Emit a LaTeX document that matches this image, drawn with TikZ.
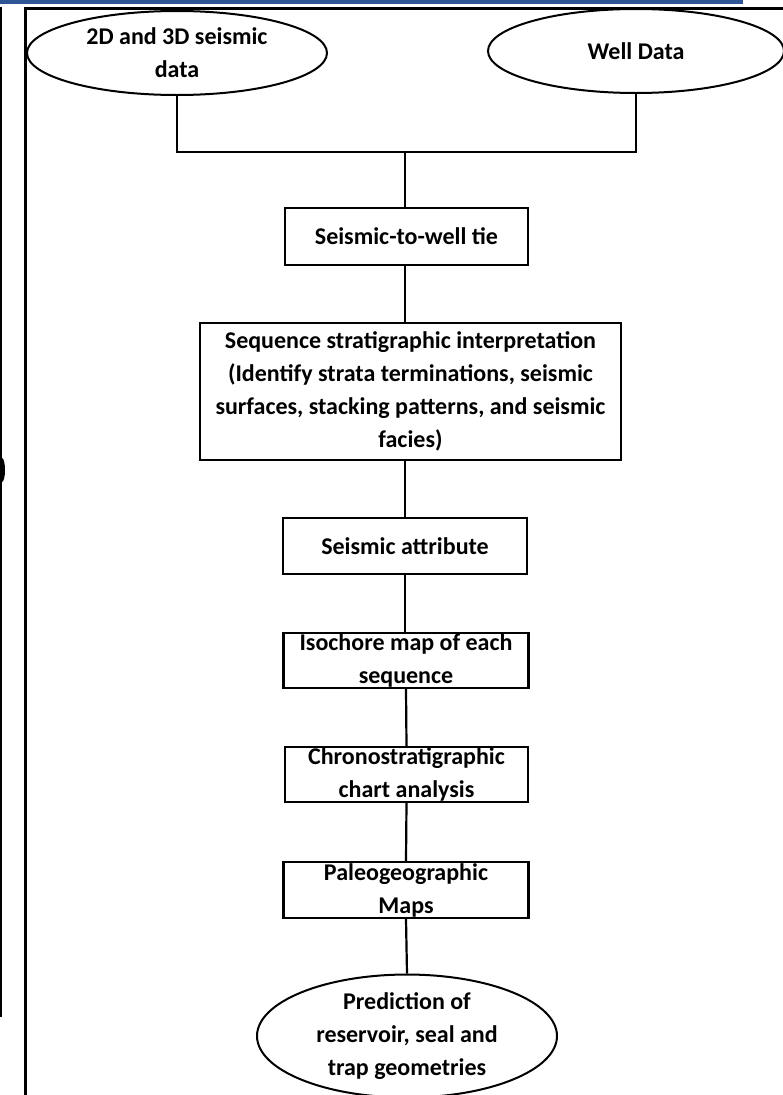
\documentclass[tikz,border=0pt]{standalone}
\usepackage{fontspec}
\setmainfont{Carlito}
\usetikzlibrary{shapes.geometric}
\definecolor{barblue}{HTML}{2F5597}
\begin{document}
\begin{tikzpicture}[x=1pt,y=-1pt,
  lbl/.style={font=\bfseries\fontsize{24}{33}\selectfont, align=center},
  stepbox/.style={lbl, draw, line width=2.2pt, rectangle, inner sep=0pt,
    minimum width=#1},
  terminal/.style={lbl, draw, line width=2pt, ellipse, inner sep=0pt},
  conn/.style={line width=2.2pt},
  frameline/.style={line width=3pt}]
\useasboundingbox (0,0) rectangle (783,1095);
% page header bar and frame
\fill[barblue] (0,0) rectangle (743,4);
\draw[frameline] (25,1095) |- (783,8);
\draw[line width=2.2pt] (1,7) -- (1,1017);
\fill (2,470) ellipse [x radius=3, y radius=12];
% inputs
\node[terminal, minimum width=300, minimum height=84] (seis) at (177,53) {2D and 3D seismic\\data};
\node[terminal, minimum width=296, minimum height=84] (well) at (636,51) {Well Data};
\coordinate (join) at (405,152);
% workflow steps
\node[stepbox=243, minimum height=57] (tie) at (406.5,236.5) {Seismic-to-well tie};
\node[stepbox=421, minimum height=137] (seq) at (410.5,391.5) {Sequence stratigraphic interpretation\\(Identify strata terminations, seismic\\surfaces, stacking patterns, and seismic\\facies)};
\node[stepbox=244, minimum height=56] (attr) at (405,546) {Seismic attribute};
\node[stepbox=245, minimum height=55] (iso) at (406,660.5) {Isochore map of each\\sequence};
\node[stepbox=243, minimum height=55] (chrono) at (406.5,774.5) {Chronostratigraphic\\chart analysis};
\node[stepbox=245, minimum height=56] (paleo) at (406,890) {Paleogeographic\\Maps};
\node[terminal, minimum width=300, minimum height=122] (pred) at (407,1036) {Prediction of\\reservoir, seal and\\trap geometries};
% connectors
\draw[conn] (seis.south) |- (join) -| (well.south);
\draw[conn] (join) -- (join |- tie.north);
\draw[conn] (join |- tie.south) -- (join |- seq.north);
\draw[conn] (attr.north |- seq.south) -- (attr.north);
\draw[conn] (attr.south) -- (attr.south |- iso.north);
\draw[conn] (iso.south) -- (chrono.north);
\draw[conn] (chrono.south) -- (paleo.north);
\draw[conn] (paleo.south) -- (pred.north);
\end{tikzpicture}
\end{document}
